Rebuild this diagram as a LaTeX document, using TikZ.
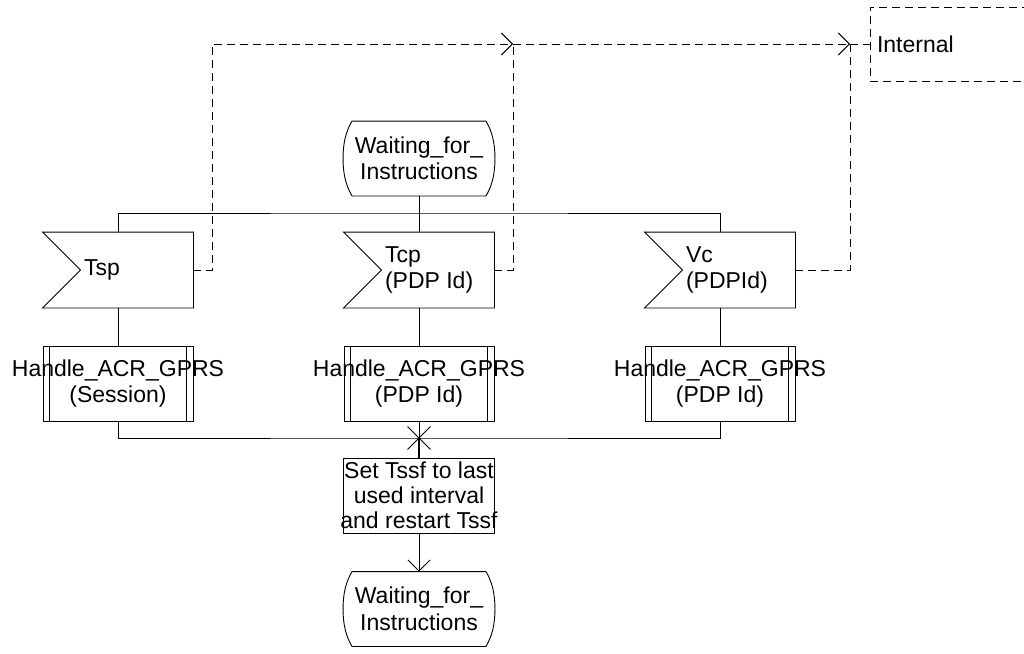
\documentclass[tikz,border=0pt]{standalone}
\usepackage{fontspec}
\setmainfont{Liberation Sans}
\usetikzlibrary{arrows.meta,calc,positioning,shapes.misc}

\newcommand{\wideline}[1]{\makebox[0pt]{#1}}

\begin{document}
\begin{tikzpicture}[x=1pt, y=-1pt, line width=0.9pt,
    every node/.style={font=\fontsize{23}{26.5}\selectfont, inner sep=0pt},
    state/.style={minimum width=151pt, minimum height=74pt, align=center},
    sig/.style={minimum width=150pt, minimum height=75pt},
    lbl/.style={anchor=west, align=left},
    proc/.style={draw, minimum width=150pt, minimum height=75pt, align=center},
    task/.style={draw, minimum width=151pt, minimum height=75pt, align=center,
      font=\fontsize{23}{25}\selectfont},
    sigroute/.style={dash pattern=on 8pt off 5pt},
    open tip/.style={-{Straight Barb[length=11pt,width=22pt]}}]
    \useasboundingbox (0,0) rectangle (1024,653);

    % states
    \node[state] (wait1) at (419,158.5) {Waiting\_for\_\\Instructions};
    \node[state] (wait2) at (419,609) {Waiting\_for\_\\Instructions};
    \foreach \st in {wait1,wait2}{
      \draw ($(\st.north west)+(9,0)$) -- ($(\st.north east)+(-9,0)$)
        .. controls ($(\st.north east)+(-3,10)$) and ($(\st.east)+(0,-16)$) .. (\st.east)
        .. controls ($(\st.east)+(0,16)$) and ($(\st.south east)+(-3,-10)$) .. ($(\st.south east)+(-9,0)$)
        -- ($(\st.south west)+(9,0)$)
        .. controls ($(\st.south west)+(3,-10)$) and ($(\st.west)+(0,16)$) .. (\st.west)
        .. controls ($(\st.west)+(0,-16)$) and ($(\st.north west)+(3,10)$) .. ($(\st.north west)+(9,0)$)
        -- cycle;
    }

    % input signals
    \node[sig] (tsp) at (118,270) {};
    \node[sig] (tcp) at (419,270) {};
    \node[sig] (vc) at (720,270) {};
    \foreach \n in {tsp,tcp,vc}{
      \draw (\n.north west) -- (\n.north east) -- (\n.south east) -- (\n.south west)
        -- ($(\n.west)+(38,0)$) -- cycle;
    }
    \node[lbl] (tsptxt) at ($(tsp.west)+(41,0)$) {Tsp};
    \node[lbl] (tcptxt) at ($(tcp.west)+(41,0)$) {Tcp\\(PDP Id)};
    \node[lbl] (vctxt) at ($(vc.west)+(41,0)$) {Vc\\(PDPId)};

    % procedure calls
    \node[proc] (proc1) at (118,383.5) {\wideline{Handle\_ACR\_GPRS}\\(Session)};
    \node[proc] (proc2) at (419,383.5) {\wideline{Handle\_ACR\_GPRS}\\(PDP Id)};
    \node[proc] (proc3) at (720,383.5) {\wideline{Handle\_ACR\_GPRS}\\(PDP Id)};
    \foreach \n in {proc1,proc2,proc3}{
      \draw ($(\n.north west)+(7,0)$) -- ($(\n.south west)+(7,0)$);
      \draw ($(\n.north east)+(-7,0)$) -- ($(\n.south east)+(-7,0)$);
    }

    \node[draw, cross out, minimum size=22pt] (join) at (419,438) {};
    \node[task] (task) at (419,495.5) {\wideline{Set Tssf to last}\\used interval\\\wideline{and restart Tssf}};

    \node[draw, sigroute, minimum width=160pt, minimum height=74pt, text width=146pt,
      inner xsep=7pt, align=left] (internal) at (950,44) {Internal};

    % flow
    \coordinate (fork) at (419,213);
    \draw (wait1) -- (fork);
    \draw (tsp) |- (fork) -| (vc);
    \draw (fork) -- (tcp);
    \draw (tsp) -- (proc1);
    \draw (tcp) -- (proc2);
    \draw (vc) -- (proc3);
    \draw (proc1) |- (join.center) -| (proc3);
    \draw (proc2) -- (join.center);
    \draw[line width=1.8pt] (join.center) -- (task);
    \draw[open tip] (task) -- (wait2);

    % internal signal routes
    \coordinate (m1) at (513,44);
    \coordinate (m2) at (850,44);
    \draw[sigroute, open tip] (tsp.east) -- ++(19,0) |- (m1);
    \draw[sigroute] (tcp.east) -| (m1);
    \draw[sigroute, open tip] (m1) -- (m2);
    \draw[sigroute] (vc.east) -| (m2);
    \draw[sigroute] (m2) -- (internal);
\end{tikzpicture}
\end{document}
